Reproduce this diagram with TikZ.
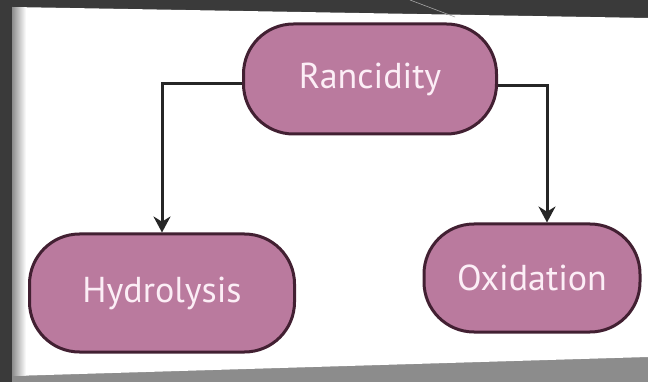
\documentclass[tikz,border=0pt]{standalone}
\usepackage{fontspec}
\setmainfont{PT Sans}
\usetikzlibrary{arrows.meta}
\definecolor{slate}{RGB}{58,58,58}
\definecolor{rimgray}{RGB}{140,140,140}
\definecolor{mauve}{RGB}{186,122,158}
\definecolor{mauverim}{RGB}{66,32,50}
\definecolor{palepink}{RGB}{252,238,246}

\begin{document}
\begin{tikzpicture}[x=1pt, y=-1pt,
    main/.style = {draw=mauverim, line width=3pt, fill=mauve, text=palepink, rounded corners=50pt, inner sep=0pt, font=\fontsize{36}{42}\selectfont},
    link/.style = {draw=black!85, line width=3pt, -{Stealth[length=16pt, width=17pt]}}]
    \useasboundingbox (0,0) rectangle (648,382);
    % backdrop and panel
    \fill[slate] (0,0) rectangle (648,382);
    \fill[rimgray] (12,370) -- (648,350) -- (648,382) -- (12,382) -- cycle;
    \fill[white] (12,7) -- (648,18) -- (648,357) -- (12,376) -- cycle;
    \shade[left color=rimgray, right color=white] (12,7) -- (26,7.3) -- (26,375.6) -- (12,376) -- cycle;
    \draw[gray!70, line width=0.6pt] (410,0) -- (455,17);

    \node[main, minimum width=253pt, minimum height=110pt] (rnc) at (370,79) {Rancidity};
    \node[main, minimum width=265pt, minimum height=118pt] (hyd) at (162,293) {Hydrolysis};
    \node[main, minimum width=216pt, minimum height=108pt] (oxi) at (532,278) {Oxidation};

    \draw[link] ([yshift=-5pt]rnc.west) -| (hyd.north);
    \draw[link] ([yshift=-7pt]rnc.east) -| ([xshift=15pt]oxi.north);
\end{tikzpicture}
\end{document}
